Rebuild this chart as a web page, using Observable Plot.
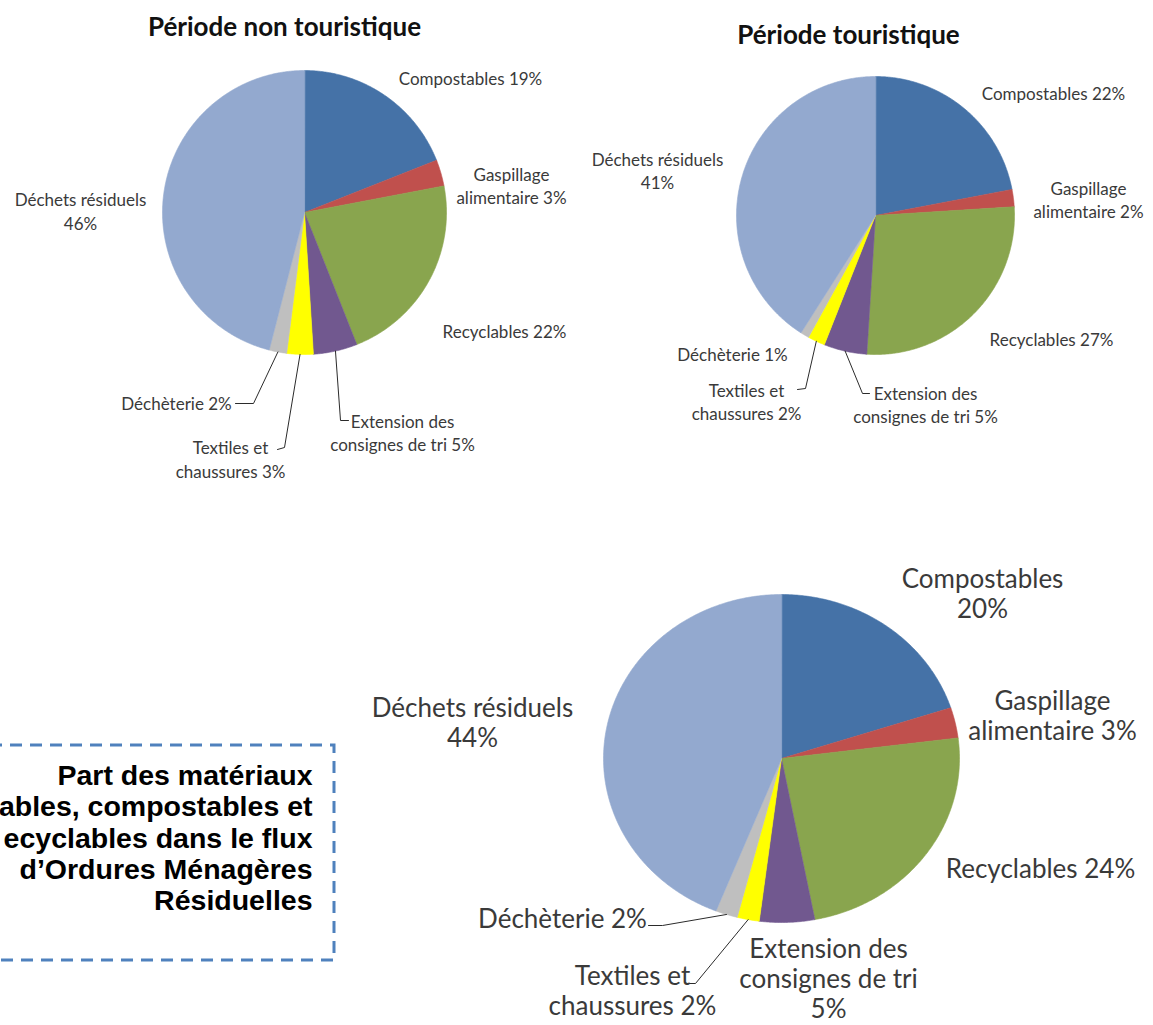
<!DOCTYPE html>
<html>
<head>
<meta charset="utf-8">
<script src="https://cdn.jsdelivr.net/npm/d3@7"></script>
<script src="https://cdn.jsdelivr.net/npm/@observablehq/plot@0.6"></script>
<style>
  html, body { margin: 0; padding: 0; background: #ffffff; overflow: hidden; }
  #chart svg { display: block; }
</style>
</head>
<body>
<div id="chart"></div>
<script>
// ---------------- DATA ----------------
const categories = [
  "Compostables",
  "Gaspillage\nalimentaire",
  "Recyclables",
  "Extension des\nconsignes de tri",
  "Textiles et\nchaussures",
  "Déchèterie",
  "Déchets résiduels"
];
const nonTouristique = [19, 3, 22, 5, 3, 2, 46];
const touristique    = [22, 2, 27, 5, 2, 1, 41];
const ensemble       = [20, 3, 24, 5, 2, 2, 44];
const pieTitles = ["Période non touristique", "Période touristique"];
// the text box is cut by the left edge of the page in the reference
const boxLines = [
  "Part des matériaux",
  "ables, compostables et",
  "ecyclables dans le flux",
  "d’Ordures Ménagères",
  "Résiduelles"
];

// ---------------- STYLE / LAYOUT ----------------
const colors = ["#4572A7", "#C0504D", "#89A54E", "#71588F", "#FFFF00", "#BFBFBF", "#93A9CF"];
const W = 1153, H = 1025;
const labelFont = "Lato, Carlito, Calibri, 'Open Sans', sans-serif";

const pies = [
  {
    values: nonTouristique, cx: 304, cy: 212, rx: 142, ry: 142, fontSize: 17, lineHeight: 1.38,
    title: {text: pieTitles[0], dx: -20, dy: -185},
    seps: [" ", " ", " ", " ", " ", " ", "\n"],
    pos: [[166, -135], [207, -27.5], [200, 118], [98, 219.5], [-74, 246], [-128, 190], [-224, -2]],
    leaders: {3: [[36, 208], [44, 208]], 4: [[-20, 235], [-27, 237]], 5: [[-51, 191], [-69, 191]]}
  },
  {
    values: touristique, cx: 875, cy: 215, rx: 139, ry: 139, fontSize: 17, lineHeight: 1.38,
    title: {text: pieTitles[1], dx: -27, dy: -180},
    seps: [" ", " ", " ", " ", " ", " ", "\n"],
    pos: [[178, -123], [213, -16.5], [176, 123], [50, 188.5], [-129, 185.5], [-143, 138], [-218, -45.5]],
    leaders: {3: [[-13, 178], [-6, 178]], 4: [[-70, 173], [-78, 174]]}
  },
  {
    values: ensemble, cx: 781, cy: 758, rx: 178, ry: 164, fontSize: 26, lineHeight: 1.16,
    title: null,
    seps: ["\n", " ", " ", "\n", " ", " ", "\n"],
    pos: [[201, -165.5], [271, -43], [259, 110], [47, 220], [-149, 232], [-219, 160], [-309, -36]],
    leaders: {4: [[-86, 225], [-93, 225]], 5: [[-119, 167], [-133, 167]]}
  }
];

// ---------------- BUILD MARK DATA ----------------
const wedgePts = [];
const labelRows = [];
const leaderPts = [];
const titleRows = [];
pies.forEach((p, pi) => {
  const arcs = d3.pie().sort(null).value(d => d)(p.values);
  const pt = a => [p.cx + p.rx * Math.sin(a), p.cy - p.ry * Math.cos(a)];
  arcs.forEach((arc, i) => {
    const key = pi + "-" + i;
    wedgePts.push({key, color: colors[i], x: p.cx, y: p.cy});
    const n = Math.max(2, Math.ceil((arc.endAngle - arc.startAngle) / (Math.PI / 360)));
    for (let k = 0; k <= n; k++) {
      const a = arc.startAngle + (arc.endAngle - arc.startAngle) * k / n;
      const [x, y] = pt(a);
      wedgePts.push({key, color: colors[i], x, y});
    }
    labelRows.push({
      pie: pi,
      text: categories[i] + p.seps[i] + p.values[i] + "%",
      x: p.cx + p.pos[i][0], y: p.cy + p.pos[i][1]
    });
    if (p.leaders[i]) {
      const mid = (arc.startAngle + arc.endAngle) / 2;
      const [rx0, ry0] = pt(mid);
      leaderPts.push({key: key, x: rx0, y: ry0});
      p.leaders[i].forEach(([dx, dy]) => leaderPts.push({key, x: p.cx + dx, y: p.cy + dy}));
    }
  });
  if (p.title) titleRows.push({text: p.title.text, x: p.cx + p.title.dx, y: p.cy + p.title.dy});
});

const boxFrame = [{x1: -30, x2: 334, y1: 745, y2: 960}];
const boxText = [{text: boxLines.join("\n"), x: 312, y: 837}];

// ---------------- PLOT ----------------
const labelMarks = pies.map((p, pi) =>
  Plot.text(labelRows.filter(d => d.pie === pi), {
    x: "x", y: "y", text: "text",
    textAnchor: "middle", lineAnchor: "middle",
    fontFamily: labelFont, fontSize: p.fontSize, lineHeight: p.lineHeight,
    fill: "#3a3a3a"
  })
);

const chart = Plot.plot({
  width: W, height: H,
  margin: 0,
  x: {domain: [0, W], range: [0, W], axis: null},
  y: {domain: [0, H], range: [0, H], axis: null},
  color: {type: "identity"},
  style: {background: "#ffffff", overflow: "hidden"},
  marks: [
    Plot.line(wedgePts, {
      x: "x", y: "y", z: "key", fill: "color", stroke: "color",
      strokeWidth: 0.6, curve: "linear-closed"
    }),
    Plot.line(leaderPts, {x: "x", y: "y", z: "key", stroke: "#2b2b2b", strokeWidth: 1}),
    ...labelMarks,
    Plot.text(titleRows, {
      x: "x", y: "y", text: "text", textAnchor: "middle", lineAnchor: "middle",
      fontFamily: labelFont, fontWeight: "bold", fontSize: 26, fill: "#111111"
    }),
    Plot.rect(boxFrame, {
      x1: "x1", x2: "x2", y1: "y1", y2: "y2",
      fill: "none", stroke: "#4F81BD", strokeWidth: 3, strokeDasharray: "12,8"
    }),
    Plot.text(boxText, {
      x: "x", y: "y", text: "text", textAnchor: "end", lineAnchor: "middle",
      fontFamily: "'Liberation Sans', Arial, sans-serif", fontWeight: "bold",
      fontSize: 28.5, lineHeight: 1.1, fill: "#000000"
    })
  ]
});
document.getElementById("chart").appendChild(chart);
</script>
</body>
</html>
